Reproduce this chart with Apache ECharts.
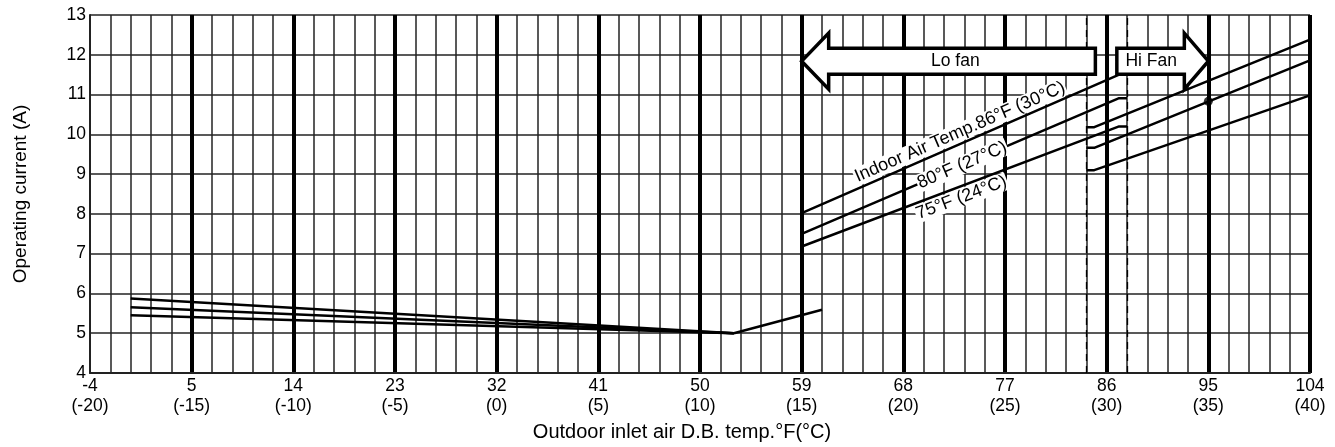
<!DOCTYPE html>
<html>
<head>
<meta charset="utf-8">
<script src="https://cdn.jsdelivr.net/npm/echarts@6/dist/echarts.min.js"></script>
<style>
  html, body { margin: 0; padding: 0; background: #fff; }
  #chart { width: 1335px; height: 447px; }
</style>
</head>
<body>
<div id="chart"></div>
<script>
// x values in °F, y values in A
const xTicks = [-4, 5, 14, 23, 32, 41, 50, 59, 68, 77, 86, 95, 104]
const yTicks = [4, 5, 6, 7, 8, 9, 10, 11, 12, 13]

// low ambient part (three indoor temps merge into one)
const low86 = [[-0.4, 5.87], [53, 5.0]]
const low80 = [[-0.4, 5.65], [53, 5.0]]
const low75 = [[-0.4, 5.45], [53, 5.0]]
const lowRise = [[53, 5.0], [60.8, 5.59]]

// Lo fan lines
const lo86 = [[59, 8.02], [87.1, 11.5], [87.8, 11.5]]
const lo80 = [[59, 7.5], [87.1, 10.91], [87.8, 10.91]]
const lo75 = [[59, 7.18], [87.1, 10.2], [87.8, 10.2]]

// Hi fan lines
const hi86 = [[84.2, 10.18], [84.9, 10.18], [104, 12.38]]
const hi80 = [[84.2, 9.66], [84.9, 9.66], [104, 11.86]]
const hi75 = [[84.2, 9.1], [84.9, 9.1], [104, 10.98]]

const ratedPoint = [[95, 10.83]]
const fanSwitch = [84.2, 87.8]

const FONT = 'Liberation Sans, Arial, Helvetica, sans-serif'

const chart = echarts.init(document.getElementById('chart'))

function lineSeries(data) {
  return {
    type: 'line',
    xAxisIndex: 1,
    data: data,
    showSymbol: false,
    symbol: 'none',
    lineStyle: { color: '#000', width: 2.5 },
    z: 5,
    silent: true
  }
}

const series = [low86, low80, low75, lowRise, lo86, lo80, lo75, hi86, hi80, hi75].map(lineSeries)

series.push({
  type: 'scatter',
  xAxisIndex: 1,
  data: ratedPoint,
  symbolSize: 9,
  itemStyle: { color: '#000' },
  z: 6,
  markLine: {
    silent: true,
    symbol: 'none',
    label: { show: false },
    lineStyle: { color: '#000', width: 1.3, type: [7, 5] },
    data: fanSwitch.map(v => ({ xAxis: v }))
  }
})

const option = {
  animation: false,
  grid: { left: 90, right: 25, top: 15, bottom: 70 },
  xAxis: [
    {
      // 1 °C grid (1.8 °F), drawn first so the heavy 5 °C lines sit on top
      type: 'value',
      min: xTicks[0],
      max: xTicks[xTicks.length - 1],
      interval: 1.8,
      position: 'bottom',
      axisLine: { show: false },
      axisTick: { show: false },
      axisLabel: { show: false },
      splitLine: { show: true, showMinLine: false, lineStyle: { color: '#222', width: 1.5 } },
      z: 0
    },
    {
      type: 'value',
      min: xTicks[0],
      max: xTicks[xTicks.length - 1],
      interval: 9,
      position: 'bottom',
      name: 'Outdoor inlet air D.B. temp.°F(°C)',
      nameLocation: 'middle',
      nameGap: 49,
      nameTextStyle: { fontFamily: FONT, fontSize: 20, color: '#000', padding: [0, 36, 0, 0] },
      axisLine: { onZero: false, lineStyle: { color: '#222', width: 2 } },
      axisTick: { show: false },
      axisLabel: {
        fontFamily: FONT,
        fontSize: 17.5,
        color: '#000',
        lineHeight: 20,
        margin: 3,
        formatter: v => v + '\n(' + Math.round((v - 32) * 5 / 9) + ')'
      },
      splitLine: { show: true, showMinLine: false, lineStyle: { color: '#000', width: 4 } },
      z: 1
    }
  ],
  yAxis: {
    type: 'value',
    min: yTicks[0],
    max: yTicks[yTicks.length - 1],
    interval: 1,
    name: 'Operating current (A)',
    nameLocation: 'middle',
    nameGap: 60,
    nameTextStyle: { fontFamily: FONT, fontSize: 19, color: '#000' },
    axisLine: { show: true, onZero: false, lineStyle: { color: '#222', width: 2 } },
    axisTick: { show: false },
    axisLabel: { fontFamily: FONT, fontSize: 17.5, color: '#000', margin: 4 },
    splitLine: { show: true, lineStyle: { color: '#222', width: 1.5 } }
  },
  series: series
}

chart.setOption(option)

// annotations: arrows and curve labels, placed through the axes
function px(p) { return chart.convertToPixel({ xAxisIndex: 1, yAxisIndex: 0 }, p) }

function arrowLeft(tipX, tailX, yVal) {
  const t = px([tipX, yVal]), e = px([tailX, yVal])
  const yc = t[1], xb = t[0] + 27
  return [[t[0], yc], [xb, yc - 28], [xb, yc - 13], [e[0], yc - 13],
          [e[0], yc + 13], [xb, yc + 13], [xb, yc + 28]]
}
function arrowRight(tailX, tipX, yVal) {
  const t = px([tipX, yVal]), s = px([tailX, yVal])
  const yc = t[1], xb = t[0] - 24
  return [[t[0], yc], [xb, yc - 28], [xb, yc - 13], [s[0], yc - 13],
          [s[0], yc + 13], [xb, yc + 13], [xb, yc + 28]]
}

// text along a line: at x = atX on the segment, shifted perpendicular by off px (negative = above)
function curveLabel(text, seg, atX, off) {
  const a = px(seg[0]), b = px(seg[1])
  const ang = Math.atan2(a[1] - b[1], b[0] - a[0])
  const p = px([atX, seg[0][1] + (atX - seg[0][0]) * (seg[1][1] - seg[0][1]) / (seg[1][0] - seg[0][0])])
  return {
    type: 'text',
    x: p[0] + off * Math.sin(ang),
    y: p[1] + off * Math.cos(ang),
    rotation: ang,
    z: 50,
    style: {
      text: text,
      font: '18px ' + FONT,
      fill: '#000',
      align: 'center',
      verticalAlign: 'middle',
      backgroundColor: '#fff',
      padding: [0, 1]
    }
  }
}

const loArrow = arrowLeft(59, 85, 11.84)
const hiArrow = arrowRight(86.9, 95, 11.84)

chart.setOption({
  graphic: [
    curveLabel('Indoor Air Temp.86°F (30°C)', [lo86[0], lo86[1]], 73.4, -11),
    curveLabel('80°F (27°C)', [lo80[0], lo80[1]], 73.2, 0),
    curveLabel('75°F (24°C)', [lo75[0], lo75[1]], 72.8, 11),
    {
      type: 'polygon', z: 60,
      shape: { points: loArrow },
      style: { fill: '#fff', stroke: '#000', lineWidth: 3.5, lineJoin: 'miter' }
    },
    {
      type: 'polygon', z: 60,
      shape: { points: hiArrow },
      style: { fill: '#fff', stroke: '#000', lineWidth: 3.5, lineJoin: 'miter' }
    },
    {
      type: 'text', z: 61,
      x: px([72.6, 0])[0], y: loArrow[0][1],
      style: { text: 'Lo fan', font: '17.5px ' + FONT, fill: '#000', align: 'center', verticalAlign: 'middle' }
    },
    {
      type: 'text', z: 61,
      x: (px([86.9, 0])[0] + px([92.8, 0])[0]) / 2 + 1, y: hiArrow[0][1],
      style: { text: 'Hi Fan', font: '17.5px ' + FONT, fill: '#000', align: 'center', verticalAlign: 'middle' }
    }
  ]
})
</script>
</body>
</html>
